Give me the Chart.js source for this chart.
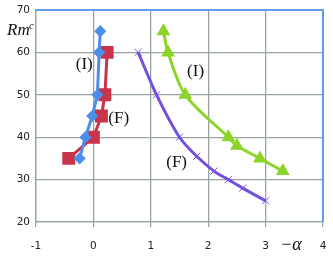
<!DOCTYPE html>
<html>
<head>
<meta charset="utf-8">
<script src="https://cdn.jsdelivr.net/npm/chart.js@4"></script>
<style>
  html, body { margin: 0; padding: 0; background: #fff; }
  #wrap { width: 333px; height: 265px; position: relative; }
</style>
</head>
<body>
<div id="wrap"><canvas id="rmPlot"></canvas></div>
<script>
// series: x = -alpha, y = Rm^c
const blueI_x = [-0.24, -0.14, -0.02, 0.07, 0.10, 0.12];
const blueI_y = [35, 40, 45, 50, 60, 65];
const redF_x = [-0.43, 0.0, 0.14, 0.20, 0.24];
const redF_y = [35, 40, 45, 50, 60];
const greenI_x = [1.22, 1.30, 1.60, 2.35, 2.50, 2.90, 3.30];
const greenI_y = [65, 60, 50, 40, 38, 35, 32];
const purpleF_x = [0.78, 1.10, 1.50, 1.80, 2.10, 2.35, 2.60, 3.00];
const purpleF_y = [60, 50, 40, 35.5, 32, 30, 28, 25];

const xTicks = [-1, 0, 1, 2, 3, 4];
const yTicks = [20, 30, 40, 50, 60, 70];

// curve labels, in data units
const curveLabels = ['(I)', '(F)', '(I)', '(F)'];
const curveLabelX = [-0.16, 0.44, 1.78, 1.45];
const curveLabelY = [57.2, 44.3, 55.5, 34.0];

function pts(xs, ys) {
    return xs.map(function(x, i) { return { x: x, y: ys[i] }; });
}

// blue frame on top/right + curve labels + axis titles
const framePlugin = {
    id: 'framePlugin',
    afterDraw: (chart) => {
        const {ctx, chartArea: {top, bottom, left, right}, scales: {x, y}} = chart;
        ctx.save();
        ctx.strokeStyle = '#5d9cf0';
        ctx.lineWidth = 2;
        ctx.beginPath();
        ctx.moveTo(left, top);
        ctx.lineTo(right, top);
        ctx.lineTo(right, bottom);
        ctx.stroke();

        ctx.fillStyle = '#111';
        ctx.font = '17px "Liberation Serif", serif';
        ctx.textAlign = 'center';
        ctx.textBaseline = 'middle';
        curveLabels.forEach(function(t, i) {
            ctx.fillText(t, x.getPixelForValue(curveLabelX[i]), y.getPixelForValue(curveLabelY[i]));
        });

        // y title
        ctx.font = 'italic 17px "Liberation Serif", serif';
        ctx.textAlign = 'left';
        ctx.fillText('Rm', 7, 31);
        ctx.font = 'italic 11px "Liberation Serif", serif';
        ctx.fillText('c', 29, 26);

        // x title
        ctx.font = 'italic 18px "Liberation Serif", serif';
        ctx.textAlign = 'center';
        ctx.fillText('\u2212\u03B1', 291, 245);
        ctx.restore();
    }
};

const ctx = document.getElementById('rmPlot').getContext('2d');

const rmChart = new Chart(ctx, {
    type: 'scatter',
    data: {
        datasets: [
            {
                label: 'I (blue)',
                data: pts(blueI_x, blueI_y),
                showLine: true,
                borderColor: '#4a8fea',
                backgroundColor: '#4a8fea',
                borderWidth: 3,
                pointStyle: 'rectRot',
                pointRadius: 4,
                tension: 0
            },
            {
                label: 'F (red)',
                data: pts(redF_x, redF_y),
                showLine: true,
                borderColor: '#c9334b',
                backgroundColor: '#c9334b',
                borderWidth: 3,
                pointStyle: 'rect',
                pointRadius: 7,
                tension: 0
            },
            {
                label: 'I (green)',
                data: pts(greenI_x, greenI_y),
                showLine: true,
                borderColor: '#8cd42a',
                backgroundColor: '#8cd42a',
                borderWidth: 3,
                pointStyle: 'triangle',
                pointRadius: 5,
                tension: 0.3
            },
            {
                label: 'F (purple)',
                data: pts(purpleF_x, purpleF_y),
                showLine: true,
                borderColor: '#7350e0',
                backgroundColor: '#7350e0',
                borderWidth: 3,
                pointStyle: 'crossRot',
                pointRadius: 5,
                pointBorderWidth: 1,
                tension: 0.3
            }
        ]
    },
    options: {
        responsive: true,
        maintainAspectRatio: false,
        animation: false,
        layout: { padding: { top: 8, right: 10, left: 0, bottom: 0 } },
        plugins: {
            legend: { display: false },
            tooltip: { enabled: false }
        },
        scales: {
            x: {
                type: 'linear',
                min: -1,
                max: 4,
                afterBuildTicks: (axis) => { axis.ticks = xTicks.map(v => ({ value: v })); },
                afterFit: (axis) => {
                    axis.height = 43;
                    axis.paddingLeft = 0;
                    axis.paddingRight = 0;
                },
                ticks: {
                    color: '#222',
                    font: { family: '"DejaVu Sans", sans-serif', size: 10.5 },
                    padding: 13,
                    maxRotation: 0
                },
                grid: { color: '#98a4a4', lineWidth: 1.3, tickLength: 5 },
                border: { color: '#98a4a4', width: 1.3 }
            },
            y: {
                type: 'linear',
                min: 20,
                max: 70,
                afterBuildTicks: (axis) => { axis.ticks = yTicks.map(v => ({ value: v })); },
                afterFit: (axis) => {
                    axis.width = 36;
                    axis.paddingTop = 0;
                    axis.paddingBottom = 0;
                },
                ticks: {
                    color: '#222',
                    font: { family: '"DejaVu Sans", sans-serif', size: 10.5 },
                    padding: 6
                },
                grid: { color: '#98a4a4', lineWidth: 1.3, drawTicks: false },
                border: { color: '#98a4a4', width: 1.3 }
            }
        }
    },
    plugins: [framePlugin]
});
</script>
</body>
</html>
